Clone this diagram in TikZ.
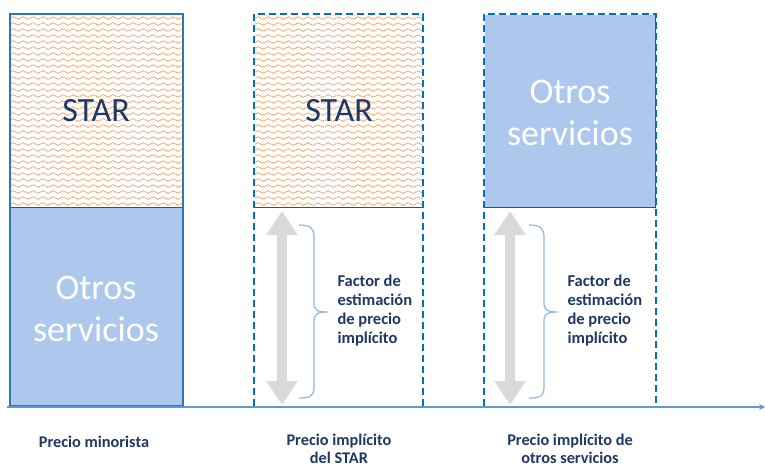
\documentclass[tikz,border=0pt]{standalone}
\usepackage{fontspec}
\setmainfont{Carlito}
\usetikzlibrary{arrows.meta,decorations.pathmorphing}
\definecolor{navy}{HTML}{1F3864}
\definecolor{frameblue}{HTML}{2E75B6}
\definecolor{dashblue}{HTML}{0070C0}
\definecolor{axisblue}{HTML}{5B9BD5}
\definecolor{bracecol}{HTML}{8DB8E2}
\definecolor{greyarrow}{HTML}{D9D9D9}
\definecolor{otrosfill}{HTML}{ADC8EC}
\definecolor{waveorange}{HTML}{F39C5E}
\definecolor{innerline}{HTML}{2F4F80}
\tikzset{
  bigtext/.style={font=\fontsize{34}{40}\selectfont, text=navy},
  otrostext/.style={font=\fontsize{36}{42}\selectfont, text=white, align=center},
  smalllabel/.style={font=\bfseries\fontsize{16.5}{19}\selectfont, text=navy, align=left},
  bottomlabel/.style={font=\bfseries\fontsize{16.3}{18}\selectfont, text=navy, align=center, inner sep=1pt},
  solidframe/.style={draw=frameblue, line width=2.6pt},
  dashframe/.style={draw=dashblue, line width=2.4pt, dash pattern=on 7pt off 4pt},
  innerbox/.style={draw=innerline, line width=1pt},
  wave/.style={draw=waveorange, line width=0.9pt, dash pattern=on 1.6pt off 0.7pt,
    decorate, decoration={snake, amplitude=1.3pt, segment length=10pt}},
  dblarrow/.style={draw=greyarrow, line width=10pt,
    {Triangle[width=30pt,length=24pt]}-{Triangle[width=30pt,length=24pt]}},
  bracestyle/.style={draw=bracecol, line width=1.2pt},
  axis/.style={draw=axisblue, line width=2.4pt, -{Stealth[length=6pt,width=6pt]}}
}
\newcommand{\wavefill}[4]{% x1 y1 x2 y2
  \begin{scope}
    \clip (#1,#2) rectangle (#3,#4);
    \pgfmathsetmacro{\ystart}{#2+3}
    \pgfmathsetmacro{\ynext}{#2+9}
    \foreach \yy in {\ystart,\ynext,...,#4} {
      \draw[wave] (#1-10,\yy) -- (#3+10,\yy);
    }
  \end{scope}}
\begin{document}
\begin{tikzpicture}[x=1pt,y=-1pt]
\useasboundingbox (0,0) rectangle (765,467);
\fill[white] (0,0) rectangle (765,467);

% ---------- Box 1: Precio minorista ----------
\wavefill{10}{15}{183}{207}
\fill[otrosfill] (10,207) rectangle (183,406);
\draw[innerbox] (10,207) -- (183,207);
\draw[solidframe] (10,14) rectangle (183,406);
\node[bigtext] (star1) at (96,111) {STAR};
\node[otrostext] (otros1) at (96,309) {Otros\\servicios};

% ---------- Box 2: Precio implícito del STAR ----------
\wavefill{255}{15}{423}{207}
\draw[innerbox] (255,207) -- (423,207);
\draw[dashframe] (254,406) -- (254,14) -- (423,14) -- (423,406);
\node[bigtext] (star2) at (339,111) {STAR};

\coordinate (a2top) at (282,211);
\coordinate (a2bot) at (282,405);
\draw[dblarrow] (a2top) -- (a2bot);
\coordinate (b2top) at (299,225);
\coordinate (b2bot) at (299,398);
\coordinate (b2tip) at (328,312);
\draw[bracestyle] (b2top) .. controls (310,225) and (314,228) .. (314,237)
  -- (314,303) .. controls (314,310) and (317,312) .. (b2tip)
  .. controls (317,312) and (314,314) .. (314,321)
  -- (314,387) .. controls (314,396) and (310,398) .. (b2bot);
\node[smalllabel, anchor=west] (f2) at (334,310) {Factor de\\estimación\\de precio\\implícito};

% ---------- Box 3: Precio implícito de otros servicios ----------
\fill[otrosfill] (485,15) rectangle (655,207);
\draw[innerbox] (485,207) -- (655,207) -- (655,15);
\draw[dashframe] (484,406) -- (484,14) -- (656,14) -- (656,406);
\node[otrostext] (otros3) at (570,113) {Otros\\servicios};

\coordinate (a3top) at (510,211);
\coordinate (a3bot) at (510,405);
\draw[dblarrow] (a3top) -- (a3bot);
\coordinate (b3top) at (529,225);
\coordinate (b3bot) at (529,398);
\coordinate (b3tip) at (558,312);
\draw[bracestyle] (b3top) .. controls (540,225) and (544,228) .. (544,237)
  -- (544,303) .. controls (544,310) and (547,312) .. (b3tip)
  .. controls (547,312) and (544,314) .. (544,321)
  -- (544,387) .. controls (544,396) and (540,398) .. (b3bot);
\node[smalllabel, anchor=west] (f3) at (564,310) {Factor de\\estimación\\de precio\\implícito};

% ---------- Axis ----------
\coordinate (ax0) at (7,407);
\coordinate (ax1) at (765,407);
\draw[axis] (ax0) -- (ax1);

% ---------- Bottom labels ----------
\node[bottomlabel] (l1) at (94,442) {Precio minorista};
\node[bottomlabel] (l2) at (339,449) {Precio implícito\\del STAR};
\node[bottomlabel] (l3) at (570,449) {Precio implícito de\\otros servicios};
\end{tikzpicture}
\end{document}
